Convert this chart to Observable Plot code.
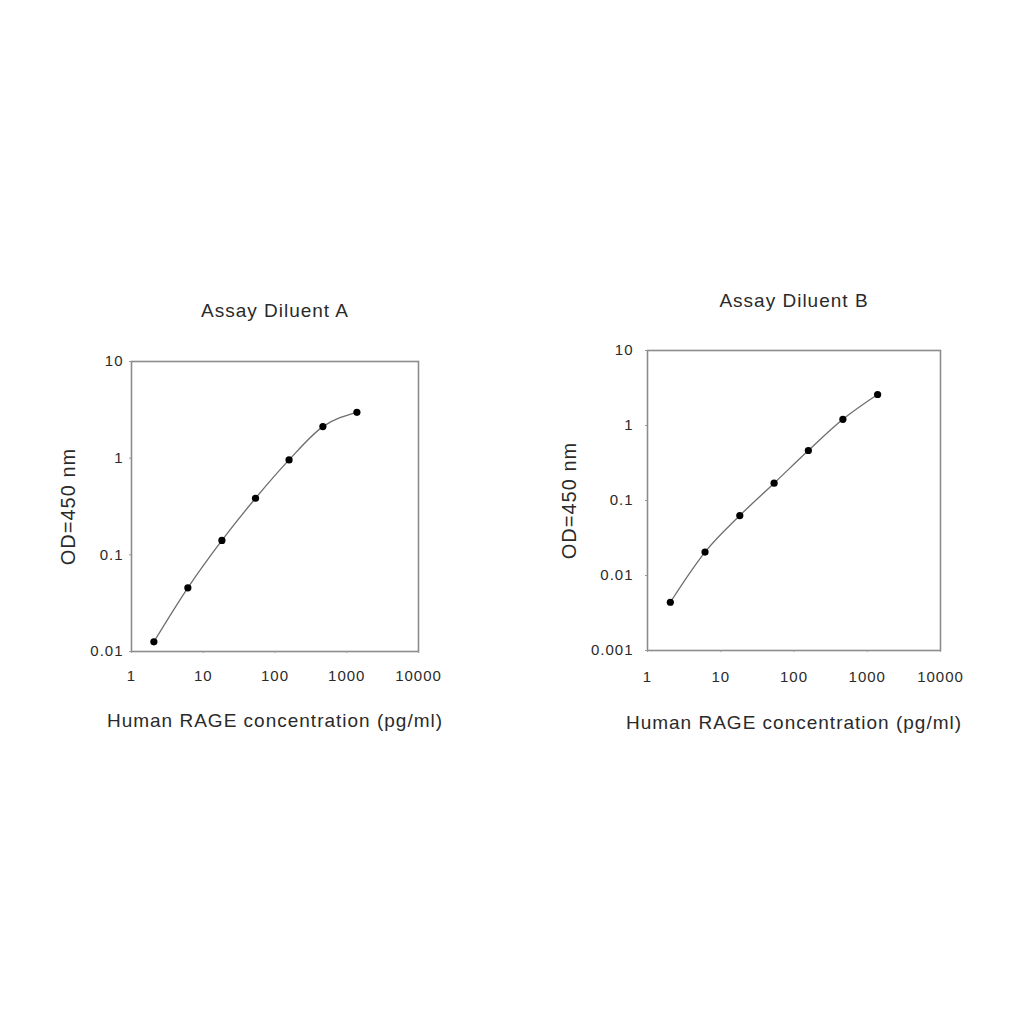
<!DOCTYPE html>
<html>
<head>
<meta charset="utf-8">
<script src="https://cdn.jsdelivr.net/npm/d3@7"></script>
<script src="https://cdn.jsdelivr.net/npm/@observablehq/plot@0.6"></script>
<style>
  html, body { margin: 0; padding: 0; background: #ffffff; }
  #wrap { position: relative; width: 1024px; height: 1024px; background: #ffffff; overflow: hidden; }
  .panel { position: absolute; }
</style>
</head>
<body>
<div id="wrap">
  <div class="panel" id="panelA" style="left:0px; top:260px;"></div>
  <div class="panel" id="panelB" style="left:512px; top:260px;"></div>
</div>
<script>
// ---- data ----
const concentration = [2.05, 6.1, 18.2, 53.5, 157, 465, 1385];   // pg/ml
const odDiluentA = [0.0126, 0.0456, 0.141, 0.385, 0.96, 2.12, 2.98];
const odDiluentB = [0.0044, 0.0205, 0.063, 0.170, 0.464, 1.21, 2.59];
const xTicks = [1, 10, 100, 1000, 10000];
const yTicksA = [0.01, 0.1, 1, 10];
const yTicksB = [0.001, 0.01, 0.1, 1, 10];
const titleA = "Assay Diluent A";
const titleB = "Assay Diluent B";
const xLabel = "Human RAGE concentration (pg/ml)";
const yLabel = "OD=450 nm";

function makeChart(cfg) {
  const data = concentration.map((c, i) => ({c, od: cfg.values[i]}));
  return Plot.plot({
    width: 480,
    height: 500,
    marginLeft: cfg.ml,
    marginRight: cfg.mr,
    marginTop: cfg.mt,
    marginBottom: cfg.mb,
    style: "font-family: 'Liberation Sans', Arial, sans-serif; font-size: 15px; letter-spacing: 1px; color: #2a2a2a; background: #ffffff; overflow: visible;",
    x: {type: "log", domain: [1, 10000]},
    y: {type: "log", domain: cfg.yDomain},
    marks: [
      Plot.frame({stroke: "#8c8c8c", strokeWidth: 1.6}),
      Plot.axisX({ticks: xTicks, tickFormat: d => String(d), tickSize: 2, tickPadding: cfg.xPad, stroke: "#999", label: null}),
      Plot.axisY({ticks: cfg.yTicks, tickFormat: d => String(d), tickSize: 2, tickPadding: cfg.yPad, stroke: "#999", label: null}),
      Plot.line(data, {x: "c", y: "od", stroke: "#6e6e6e", strokeWidth: 1.3, curve: "monotone-x"}),
      Plot.dot(data, {x: "c", y: "od", r: 3.6, fill: "#000"}),
      Plot.text([cfg.title], {frameAnchor: "top", lineAnchor: "middle", textAnchor: "middle", dy: cfg.titleDy, fontSize: 19}),
      Plot.text([yLabel], {frameAnchor: "left", lineAnchor: "middle", textAnchor: "middle", dx: cfg.yLabelDx, rotate: -90, fontSize: 20}),
      Plot.text([xLabel], {frameAnchor: "bottom", lineAnchor: "middle", textAnchor: "middle", dy: cfg.xLabelDy, fontSize: 19})
    ]
  });
}

document.getElementById("panelA").appendChild(makeChart({
  values: odDiluentA, yDomain: [0.01, 10], yTicks: yTicksA, title: titleA,
  ml: 131, mr: 62, mt: 101, mb: 109,
  xPad: 16.5, yPad: 6, titleDy: -51, yLabelDx: -63, xLabelDy: 69
}));

document.getElementById("panelB").appendChild(makeChart({
  values: odDiluentB, yDomain: [0.001, 10], yTicks: yTicksB, title: titleB,
  ml: 135, mr: 52, mt: 90, mb: 110,
  xPad: 18.5, yPad: 12, titleDy: -50, yLabelDx: -78, xLabelDy: 72
}));
</script>
</body>
</html>
